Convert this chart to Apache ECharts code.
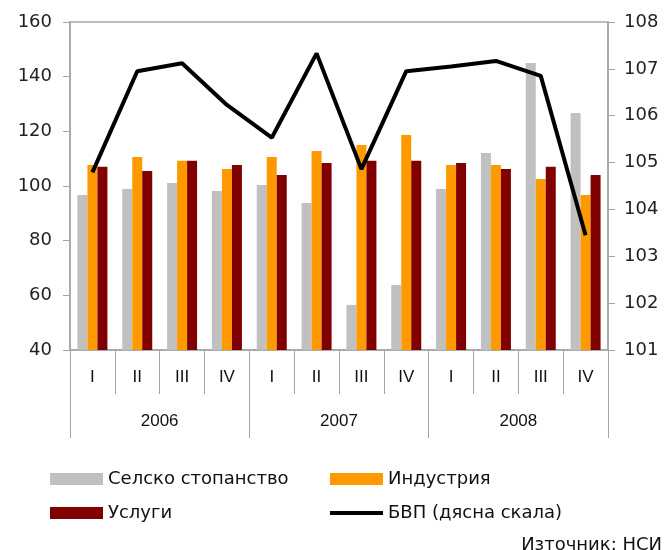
<!DOCTYPE html>
<html><head><meta charset="utf-8">
<script src="https://cdn.jsdelivr.net/npm/echarts@6/dist/echarts.min.js"></script>
<style>html,body{margin:0;padding:0;background:#fff}#c{width:665px;height:550px}</style>
</head><body><div id="c"></div>
<script>
var quarters = ['I','II','III','IV','I','II','III','IV','I','II','III','IV'];
var years = ['2006','2007','2008'];
var agriculture = [96.7, 98.9, 101.1, 98.2, 100.4, 93.8, 56.5, 63.8, 98.9, 112.1, 145.0, 126.7];
var industry    = [107.7, 110.6, 109.2, 106.2, 110.6, 112.8, 115.0, 118.7, 107.7, 107.7, 102.6, 96.7];
var services    = [107.0, 105.5, 109.2, 107.7, 104.0, 108.4, 109.2, 109.2, 108.4, 106.2, 107.0, 104.0];
var gdp         = [104.79, 106.95, 107.12, 106.23, 105.53, 107.33, 104.86, 106.95, 107.05, 107.17, 106.85, 103.45];
var names = ['Селско стопанство','Индустрия','Услуги','БВП (дясна скала)'];
var source = 'Източник: НСИ';

var axisGrey = '#a6a6a6';
var numFont = {fontFamily:'DejaVu Sans', fontSize:18, color:'#222'};
var legendText = {fontFamily:'DejaVu Sans', fontSize:18, color:'#111'};
var lineIcon = 'path://M0,0 L0,0 Z M0,4 L53,4 L53,8 L0,8 Z M53,12 L53,12 Z';
var chart = echarts.init(document.getElementById('c'), null, {renderer:'canvas'});
chart.setOption({
  animation:false,
  grid:{left:70, right:57, top:22, bottom:200, show:true, borderColor:axisGrey, borderWidth:1.5},
  xAxis:[
    {type:'category', data:quarters, position:'bottom',
     axisLine:{show:true, lineStyle:{color:axisGrey, width:1.5}},
     axisTick:{show:true, interval:0, length:44, lineStyle:{color:axisGrey, width:1}},
     axisLabel:{interval:0, margin:19, fontFamily:'Liberation Sans', fontSize:17, color:'#111'}},
    {type:'category', data:years, position:'bottom', offset:0,
     axisLine:{show:false},
     axisTick:{show:true, interval:0, length:88, lineStyle:{color:axisGrey, width:1}},
     axisLabel:{interval:0, margin:63, fontFamily:'Liberation Sans', fontSize:17, color:'#111'}}
  ],
  yAxis:[
    {type:'value', min:40, max:160, interval:20, position:'left',
     axisLine:{show:true, lineStyle:{color:axisGrey, width:1.5}},
     axisTick:{show:true, length:7, lineStyle:{color:axisGrey}},
     splitLine:{show:false},
     axisLabel:Object.assign({margin:18}, numFont)},
    {type:'value', min:101, max:108, interval:1, position:'right',
     axisLine:{show:true, lineStyle:{color:axisGrey, width:1.5}},
     axisTick:{show:true, length:7, lineStyle:{color:axisGrey}},
     splitLine:{show:false},
     axisLabel:Object.assign({margin:16}, numFont)}
  ],
  legend:[
    {orient:'vertical', left:45, top:465, itemWidth:53, itemHeight:12, itemGap:16,
     data:[{name:names[0], icon:'rect'}, {name:names[2], icon:'rect'}],
     textStyle:legendText},
    {orient:'vertical', left:325, top:465, itemWidth:53, itemHeight:12, itemGap:16,
     data:[{name:names[1], icon:'rect'}, {name:names[3], icon:lineIcon, itemStyle:{color:'#000'}}],
     textStyle:legendText}
  ],
  graphic:[{type:'text', right:3, top:536, style:{text:source, fontFamily:'DejaVu Sans', fontSize:18, fill:'#111'}}],
  series:[
    {name:names[0], type:'bar', data:agriculture, barWidth:10, barGap:'0%', itemStyle:{color:'#c0c0c0'}},
    {name:names[1], type:'bar', data:industry, barWidth:10, barGap:'0%', itemStyle:{color:'#ff9900'}},
    {name:names[2], type:'bar', data:services, barWidth:10, barGap:'0%', itemStyle:{color:'#800000'}},
    {name:names[3], type:'line', yAxisIndex:1, data:gdp, symbol:'none', lineStyle:{color:'#000', width:4}, itemStyle:{color:'#000'}}
  ]
});
</script></body></html>
